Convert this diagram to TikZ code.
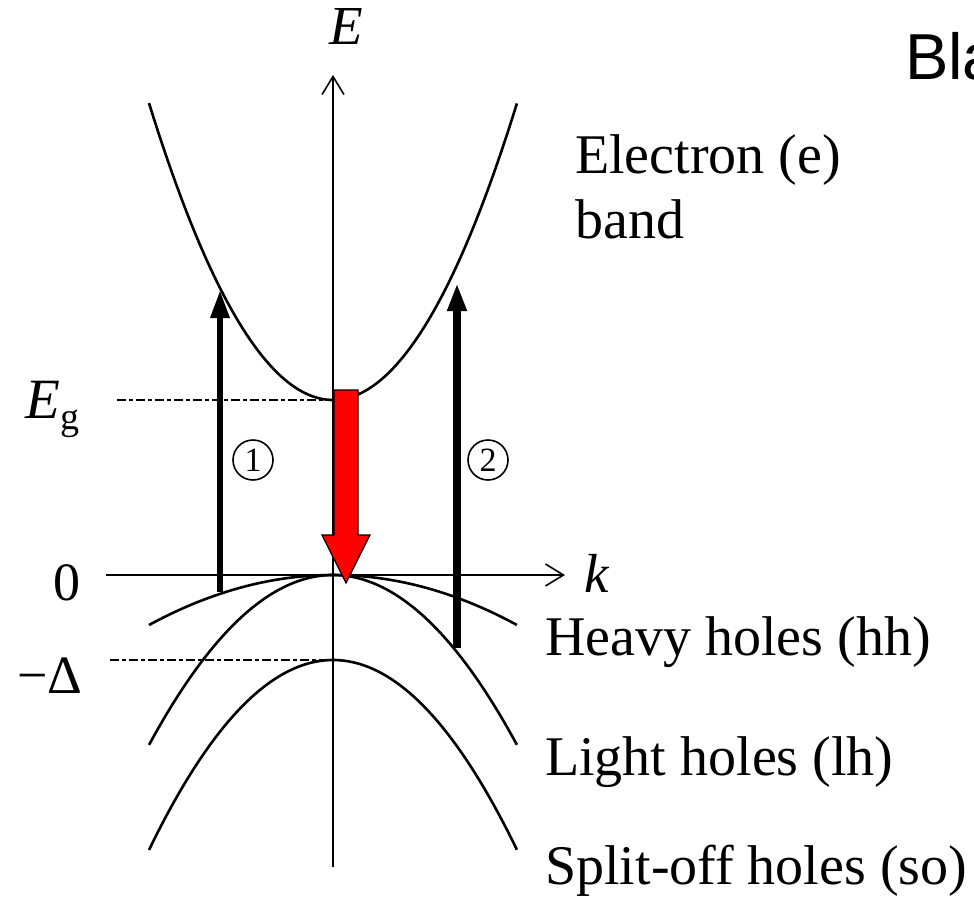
\documentclass[tikz,border=0pt]{standalone}
\usepackage{fontspec}
\setmainfont{Liberation Serif}
\newfontfamily\labsans{Liberation Sans}
\usetikzlibrary{arrows.meta}
\begin{document}
\begin{tikzpicture}[x=1pt,y=-1pt,
  bandline/.style={line width=2.6pt},
  axisline/.style={line width=1.6pt,-{Straight Barb[length=18pt,width=22pt,line width=1.6pt]}},
  levelline/.style={line width=1.8pt,dash pattern=on 9pt off 3pt on 4pt off 3pt},
  transarrow/.style={-{Triangle[length=28pt,width=18pt]}},
  redarrow/.style={fill=red,draw=black,line width=1.2pt,line join=miter},
  lab/.style={inner sep=0pt,anchor=base west,font=\fontsize{56}{62}\selectfont},
  numcirc/.style={circle,draw,line width=1.6pt,minimum size=40pt,inner sep=0pt,font=\fontsize{34}{36}\selectfont}
]
\useasboundingbox (0,0) rectangle (974,899);
\begin{scope}
\clip (0,0) rectangle (974,899);
\node[inner sep=0pt,anchor=base west,font=\labsans\fontsize{65}{70}\selectfont] (bla) at (905,79) {Bla};
\end{scope}

% axes
\coordinate (Ebot) at (333,867);
\coordinate (Etop) at (333,75);
\coordinate (kleft) at (106,575);
\coordinate (kright) at (565,575);
\draw[axisline] (Ebot) -- (Etop);
\draw[axisline] (kleft) -- (kright);
\node[lab,font=\itshape\fontsize{55}{60}\selectfont] (Elab) at (329,45) {E};
\node[lab,font=\itshape\fontsize{55}{60}\selectfont] (klab) at (584,592) {k};

% level lines
\coordinate (egL) at (117,400);
\coordinate (egR) at (333,400);
\coordinate (dL) at (110,660);
\coordinate (dR) at (333,660);
\draw[levelline] (egL) -- (egR);
\draw[levelline] (dL) -- (dR);
\node[lab,font=\fontsize{57}{60}\selectfont] (eg) at (25,418) {\itshape E\raisebox{-11pt}{\fontsize{38}{40}\selectfont\upshape g}};
\node[lab,font=\fontsize{54}{60}\selectfont] (zero) at (53,600) {0};
\node[lab,font=\fontsize{54}{60}\selectfont] (delta) at (17,693) {\char"2212\char"0394};

% bands
\draw[bandline] plot[domain=-1.84:1.84,samples=80] ({333+100*\x},{400-87.7*\x*\x});
\draw[bandline] plot[domain=-1.84:1.84,samples=80] ({333+100*\x},{575+14.77*\x*\x});
\draw[bandline] plot[domain=-1.84:1.84,samples=80] ({333+100*\x},{575+50.2*\x*\x});
\draw[bandline] plot[domain=-1.84:1.84,samples=80] ({333+100*\x},{660+56.1*\x*\x});

% band labels
\node[lab] (el1) at (575,173) {Electron (e)};
\node[lab] (el2) at (575,238) {band};
\node[lab] (hh) at (545,655) {Heavy holes (hh)};
\node[lab] (lh) at (545,775) {Light holes (lh)};
\node[lab] (so) at (545,884) {Split-off holes (so)};

% transitions
\coordinate (t1a) at (220,592);
\coordinate (t1b) at (220,290);
\coordinate (t2a) at (457,648);
\coordinate (t2b) at (457,283);
\draw[transarrow,line width=6pt] (t1a) -- (t1b);
\draw[transarrow,line width=8pt] (t2a) -- (t2b);
\node[numcirc] (n1) at (253,460) {1};
\node[numcirc] (n2) at (488,460) {2};

% red recombination arrow
\draw[redarrow] (334,390) -- (358,390) -- (358,535) -- (370,535) -- (346,583) -- (322,535) -- (334,535) -- cycle;
\end{tikzpicture}
\end{document}
